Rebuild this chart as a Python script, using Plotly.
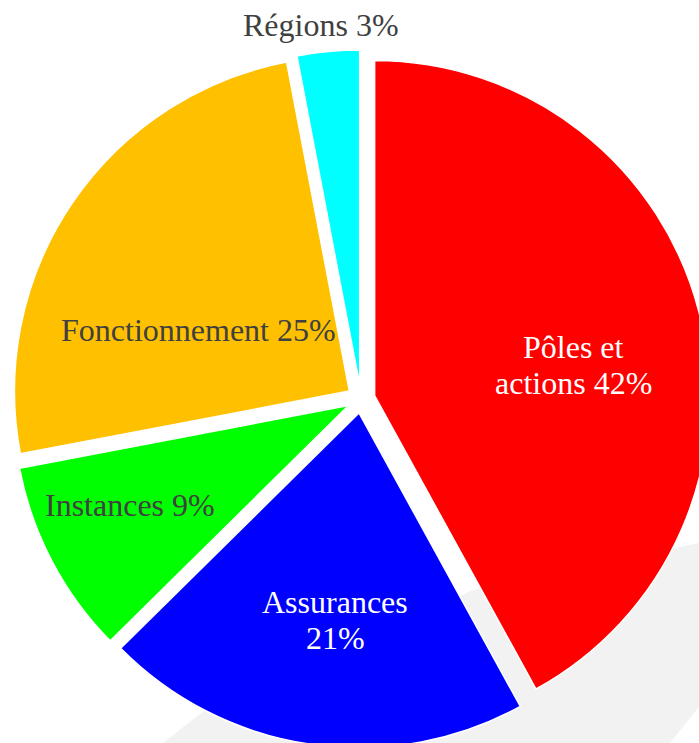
import plotly.graph_objects as go

# ---- data ----
labels = ["Pôles et actions", "Assurances", "Instances", "Fonctionnement", "Régions"]
label_lines = ["Pôles et<br>actions", "Assurances<br>", "Instances", "Fonctionnement", "Régions"]
values = [42, 20.6, 9.4, 25, 3]
colors = ["#FF0000", "#0000FF", "#00FF00", "#FFC000", "#00FFFF"]
text_colors = ["#FFFFFF", "#FFFFFF", "#404040", "#404040", "#404040"]

texts = []
for lab, v in zip(label_lines, values):
    sep = "" if lab.endswith("<br>") else " "
    texts.append(f"{lab}{sep}{v:.0f}%")

# ---- layout settings (pixel positions in the figure) ----
W, H = 722, 798
DOM_TOP, DOM_BOTTOM = 50, 748
LABEL_XY = [(573, 365), (335, 620), (130, 505), (199, 330), (321, 25)]
LINE_GAP = 36
FONT = "Liberation Serif"
FONT_SIZE = 32


def px(x, y):
    return x / W, 1 - y / H


fig = go.Figure()
fig.add_trace(go.Pie(
    labels=labels,
    values=values,
    textinfo="none",
    sort=False,
    direction="clockwise",
    rotation=0,
    pull=[0.042] * len(values),
    marker=dict(colors=colors, line=dict(color="#FFFFFF", width=1.5)),
    hoverinfo="label+percent",
    showlegend=False,
    domain=dict(x=[0, 1], y=[1 - DOM_BOTTOM / H, 1 - DOM_TOP / H]),
))

for t, c, (x, y) in zip(texts, text_colors, LABEL_XY):
    lines = t.split("<br>")
    n = len(lines)
    for i, line in enumerate(lines):
        ly = y + (i - (n - 1) / 2) * LINE_GAP
        ax, ay = px(x, ly)
        fig.add_annotation(
            x=ax, y=ay, xref="paper", yref="paper", text=line, showarrow=False,
            xanchor="center", yanchor="middle", align="center",
            font=dict(family=FONT, size=FONT_SIZE, color=c),
        )

# light grey background decoration (slide backdrop)
poly = [(93, 798), (205, 710), (473, 590), (699, 543), (722, 538), (722, 678), (626, 798)]
pts = [px(x, y) for x, y in poly]
path = "M " + " L ".join(f"{a:.5f},{b:.5f}" for a, b in pts) + " Z"
fig.add_shape(type="path", path=path, xref="paper", yref="paper",
              fillcolor="#F2F2F2", line=dict(width=0), layer="below")

fig.update_layout(
    width=W, height=H,
    margin=dict(l=0, r=0, t=0, b=0),
    paper_bgcolor="#FFFFFF",
    plot_bgcolor="#FFFFFF",
    font=dict(family=FONT),
)

fig.write_html("out.html",
               config={"displayModeBar": False},
               post_script="document.body.style.margin='0';document.body.style.overflow='hidden';")
